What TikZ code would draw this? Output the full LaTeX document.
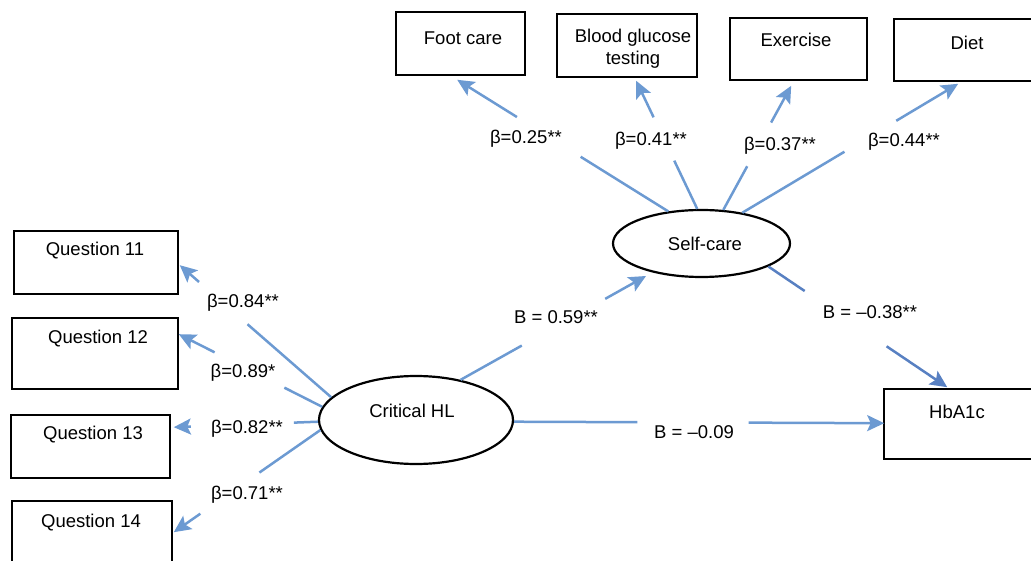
\documentclass[tikz,border=0pt]{standalone}
\usepackage{fontspec}
\setmainfont{Liberation Sans}
\usetikzlibrary{arrows.meta,calc,shapes.geometric}
\definecolor{pathblue}{RGB}{108,154,210}
\definecolor{pathdark}{RGB}{88,128,194}
\newcommand\gapline[4]{%
  \draw[lnk] (#1) -- ($(#1)!#3!(#2)$);
  \draw[arr] ($(#1)!#4!(#2)$) -- (#2);}
\begin{document}
\begin{tikzpicture}[x=1pt,y=-1pt,
  font=\fontsize{18.5}{22}\selectfont,
  box/.style={draw=black, line width=1.6pt, rectangle, inner sep=0pt},
  oval/.style={draw=black, line width=2.2pt, ellipse, inner sep=0pt},
  lnk/.style={draw=pathblue, line width=2.5pt},
  arr/.style={lnk, -{Stealth[length=17pt,width=16pt,inset=3.5pt]}},
  coef/.style={anchor=base, inner sep=0pt},
  txt/.style={inner sep=0pt, align=center}]
\useasboundingbox (0,0) rectangle (1031,561);

% indicator boxes (top)
\node[box, minimum width=129pt, minimum height=63pt,
  label={[txt,xshift=2.5pt,yshift=5.5pt]center:Foot care}] (fc) at (460.5,43.5) {};
\node[box, minimum width=140pt, minimum height=63pt,
  label={[txt,xshift=6pt,yshift=-3.5pt]center:Blood glucose\\testing}] (bg) at (627,45.5) {};
\node[box, minimum width=137pt, minimum height=62pt,
  label={[txt,xshift=-2.5pt,yshift=9pt]center:Exercise}] (ex) at (798.5,49) {};
\node[box, minimum width=146pt, minimum height=62pt,
  label={[txt,yshift=7pt]center:Diet}] (dt) at (967,50) {};

% question boxes (left)
\node[box, minimum width=164pt, minimum height=63pt,
  label={[txt,xshift=-1pt,yshift=11.5pt]center:Question 11}] (q11) at (96,262.5) {};
\node[box, minimum width=166pt, minimum height=71pt,
  label={[txt,xshift=3pt,yshift=14.5pt]center:Question 12}] (q12) at (95,353.5) {};
\node[box, minimum width=159pt, minimum height=63pt,
  label={[txt,xshift=2.5pt,yshift=11.5pt]center:Question 13}] (q13) at (90.5,446.5) {};
\node[box, minimum width=160pt, minimum height=71pt,
  label={[txt,xshift=-1pt,yshift=13.5pt]center:Question 14}] (q14) at (92,536.5) {};

% outcome box
\node[box, minimum width=156pt, minimum height=70pt,
  label={[txt,xshift=-5pt,yshift=12pt]center:HbA1c}] (hb) at (962,424) {};

% latent variables
\node[oval, minimum width=177pt, minimum height=67pt,
  label={[txt,xshift=3.5pt,yshift=-0.5pt]center:Self-care}] (sc) at (701.5,243.5) {};
\node[oval, minimum width=194pt, minimum height=88pt,
  label={[txt,xshift=-4pt,yshift=9pt]center:Critical HL}] (ch) at (416,420) {};

% arrow end points
\coordinate (fcT) at ($(fc.south west)+(62,4)$);
\coordinate (bgT) at ($(bg.south west)+(80,3)$);
\coordinate (exT) at ($(ex.south west)+(62,5)$);
\coordinate (dtT) at ($(dt.south west)+(65,2)$);
\coordinate (q1T) at ($(q11.north east)+(1,35)$);
\coordinate (q2T) at ($(q12.north east)+(0,17)$);
\coordinate (q3T) at ($(q13.north east)+(3,13)$);
\coordinate (q4T) at ($(q14.north east)+(1,32)$);
\coordinate (hbA) at ($(hb.north west)+(64,-1)$);
\coordinate (hbB) at ($(hb.north west)+(1,35)$);
\coordinate (scT) at ($(sc.center)+(-55.5,32.5)$);

% connectors
\gapline{sc.136}{fcT}{0.415}{0.717}
\gapline{sc.97.7}{bgT}{0.377}{0.715}
\gapline{sc.57.3}{exT}{0.352}{0.704}
\gapline{sc.37.9}{dtT}{0.473}{0.713}

\gapline{ch.165}{q1T}{0.553}{0.873}
\gapline{ch.172}{q2T}{0.264}{0.75}
\gapline{ch.181}{q3T}{0.167}{0.882}
\gapline{ch.186}{q4T}{0.416}{0.819}

\gapline{ch.42.9}{scT}{0.33}{0.78}
\draw[lnk, draw=pathdark] (sc.-19.4) -- ($(sc.-19.4)!0.203!(hbA)$);
\draw[arr, draw=pathdark] ($(sc.-19.4)!0.661!(hbA)$) -- (hbA);
\gapline{ch.-1}{hbB}{0.333}{0.634}

% coefficients
\node[coef] (b1) at (526,143.5) {β=0.25**};
\node[coef] (b2) at (651,145.5) {β=0.41**};
\node[coef] (b3) at (780,150.5) {β=0.37**};
\node[coef] (b4) at (904,146.5) {β=0.44**};
\node[coef] (b5) at (243,307.5) {β=0.84**};
\node[coef] (b6) at (243,377.5) {β=0.89*};
\node[coef] (b7) at (247,433.5) {β=0.82**};
\node[coef] (b8) at (247,499.5) {β=0.71**};
\node[coef] (p1) at (556,323.5) {B = 0.59**};
\node[coef] (p2) at (870,318.5) {B = –0.38**};
\node[coef] (p3) at (694,438.5) {B = –0.09};
\end{tikzpicture}
\end{document}
